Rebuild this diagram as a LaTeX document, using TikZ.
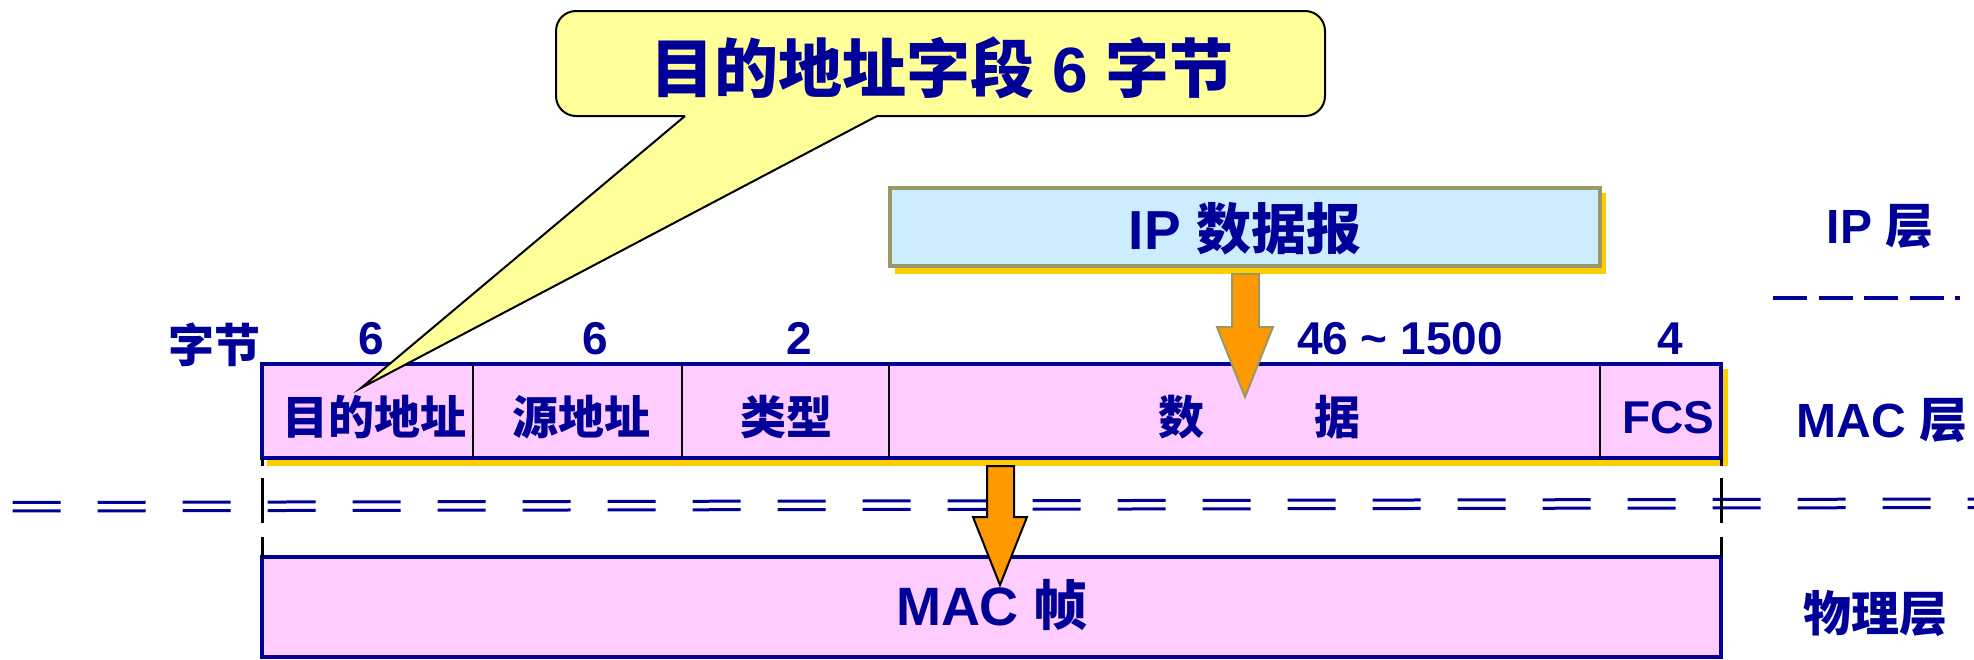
\documentclass[tikz,border=0pt]{standalone}
\usepackage{fontspec}
\setmainfont{Liberation Sans}
\newfontfamily\cjkf{Noto Sans CJK SC}
\newcommand{\cj}[1]{{\cjkf\bfseries #1}}
\newcommand{\fsz}[1]{\fontsize{#1}{#1}\selectfont}
\definecolor{mblue}{RGB}{0,0,153}
\definecolor{mpink}{RGB}{255,204,255}
\definecolor{mlblue}{RGB}{204,236,255}
\definecolor{molive}{RGB}{153,153,102}
\definecolor{mshadow}{RGB}{255,204,0}
\definecolor{morange}{RGB}{255,153,0}
\definecolor{mcall}{RGB}{255,255,153}
\begin{document}
\begin{tikzpicture}[x=1pt,y=-1pt,
  lbl/.style={text=mblue, inner sep=0pt, anchor=base},
  boxnode/.style={rectangle, inner sep=0pt, outer sep=0pt},
  blockarrow/.style={fill=morange, line width=2pt, line join=miter},
  divider/.style={black, line width=2pt},
  vdash/.style={black, line width=3pt, dash pattern=on 8pt off 12pt on 45pt off 14pt on 60pt off 0pt},
  hdouble/.style={mblue, line width=3pt, dash pattern=on 48pt off 37pt, dash phase=72.4pt},
  layerdash/.style={mblue, line width=4.5pt, dash pattern=on 34pt off 11.5pt}]
\useasboundingbox (0,0) rectangle (1974,659);

% shadows
\fill[mshadow] (267,369) rectangle (1728,466);
\fill[mshadow] (895,193) rectangle (1606,274);

% MAC row
\node[boxnode, draw=mblue, fill=mpink, line width=4.5pt, minimum width=1459pt, minimum height=94pt] (macrow) at (991.5,411) {};
\draw[divider] (473,364) -- (473,458);
\draw[divider] (682,364) -- (682,458);
\draw[divider] (889,364) -- (889,458);
\draw[divider] (1600,364) -- (1600,458);

% IP box
\node[boxnode, draw=molive, fill=mlblue, line width=3.5pt, minimum width=710pt, minimum height=78pt] (ipbox) at (1245,227) {};

% MAC frame box
\node[boxnode, draw=mblue, fill=mpink, line width=4.5pt, minimum width=1459pt, minimum height=100pt] (macframe) at (991.5,607) {};

% layer separators
\draw[hdouble] (0,502.5) -- (1974,499);
\draw[hdouble] (0,511) -- (1974,507.5);
\draw[layerdash] (1773,298) -- (1960,298);

% vertical dashed guides
\draw[vdash] (macrow.south west) -- (macframe.north west);
\draw[vdash] (macrow.south east) -- (macframe.north east);

% block arrows
\draw[blockarrow, draw=molive] (1232,274) -- (1259,274) -- (1259,327) -- (1273,327) -- (1245,397) -- (1217,327) -- (1232,327) -- cycle;
\draw[blockarrow, draw=black] (987,466) -- (1014,466) -- (1014,517) -- (1027,517) -- (1000,585) -- (973,517) -- (987,517) -- cycle;

% texts
\node[lbl, font=\fsz{55}\bfseries] (iptext) at (1245,249) {IP \cj{数据报}};
\node[lbl, font=\fsz{46}\bfseries] (zj) at (214,362) {\cj{字节}};
\node[lbl, font=\fsz{46}\bfseries] (n1) at (371,354) {6};
\node[lbl, font=\fsz{46}\bfseries] (n2) at (595,354) {6};
\node[lbl, font=\fsz{46}\bfseries] (n3) at (799,354) {2};
\node[lbl, font=\fsz{46}\bfseries] (n4) at (1400,354) {46 \char`\~\ 1500};
\node[lbl, font=\fsz{46}\bfseries] (n5) at (1670,354) {4};
\node[lbl, font=\fsz{46}\bfseries] (f1) at (374,434) {\cj{目的地址}};
\node[lbl, font=\fsz{46}\bfseries] (f2) at (581,434) {\cj{源地址}};
\node[lbl, font=\fsz{46}\bfseries] (f3) at (786,434) {\cj{类型}};
\node[lbl, font=\fsz{46}\bfseries] (f4a) at (1181,434) {\cj{数}};
\node[lbl, font=\fsz{46}\bfseries] (f4b) at (1337,434) {\cj{据}};
\node[lbl, font=\fsz{46}\bfseries] (f5) at (1668,433) {FCS};
\node[lbl, font=\fsz{54}\bfseries] (mactext) at (992,625) {MAC \cj{帧}};
\node[lbl, font=\fsz{48}\bfseries] (l1) at (1880,243) {IP \cj{层}};
\node[lbl, font=\fsz{48}\bfseries] (l2) at (1882,437) {MAC \cj{层}};
\node[lbl, font=\fsz{48}\bfseries] (l3) at (1875,631) {\cj{物理层}};

% callout
\node[boxnode, draw=black, fill=mcall, line width=2pt, rounded corners=20pt, minimum width=769pt, minimum height=105pt] (callout) at (940.5,63.5) {};
\coordinate (tip) at (361,388);
\fill[mcall] (685,112) -- (685,116) -- (tip) -- (877,116) -- (877,112) -- cycle;
\draw[black, line width=2pt, line join=miter] (685,116) -- (tip) -- (877,116);
\node[lbl, font=\fsz{64}\bfseries] (calltext) at (942,92) {\cj{目的地址字段} 6 \cj{字节}};
\end{tikzpicture}
\end{document}
